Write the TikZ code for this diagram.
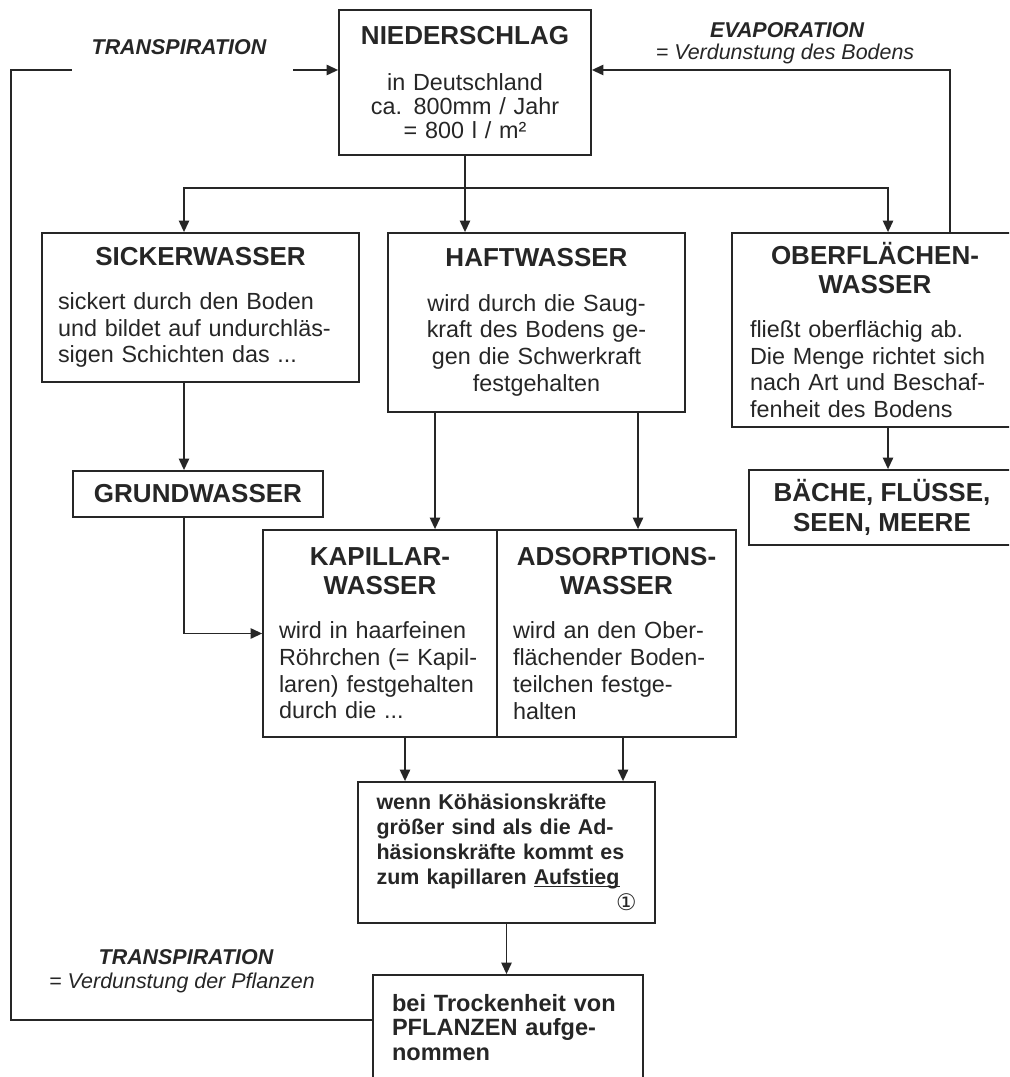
\documentclass[tikz,border=0pt]{standalone}
\usepackage{fontspec}
\setmainfont{Liberation Sans}
\newfontfamily\symfont{DejaVu Sans}
\usetikzlibrary{arrows.meta}

\newcommand{\hd}[1]{{\centering\fontsize{14.8}{16.4}\selectfont\bfseries #1\par}\vspace{10pt}}

\begin{document}
\begin{tikzpicture}[x=0.02cm, y=-0.02cm, line width=1pt, color=black!85,
  >={Triangle[length=6.5pt,width=5.8pt]},
  box/.style={draw, inner xsep=0.32cm, inner ysep=0pt, align=left,
    font=\fontsize{13.3}{15.2}\selectfont},
  ttlbox/.style={draw, inner sep=0pt, align=center,
    font=\fontsize{14.8}{17}\selectfont\bfseries},
  lbl/.style={font=\fontsize{12.2}{14}\selectfont\bfseries\itshape},
  sub/.style={font=\fontsize{12.2}{14}\selectfont\itshape}]
\useasboundingbox (0,0) rectangle (1009,1077);
\clip (0,0) rectangle (1009,1077);

\node[box, align=center, text width=4.4cm, minimum width=5cm, minimum height=2.9cm] (nieder) at (465,82.5)
  {\hd{NIEDERSCHLAG}\vspace{3pt}{\fontsize{13.3}{13.6}\selectfont in Deutschland\\ ca. 800mm / Jahr\\ = 800 l / m²\par}};
\node[box, text width=5.7cm, minimum width=6.34cm, minimum height=2.98cm] (sicker) at (200.5,307.5)
  {\hd{SICKERWASSER}sickert durch den Boden\\ und bildet auf undurchläs-\\ sigen Schichten das ...};
\node[box, align=center, text width=5.3cm, minimum width=5.94cm, minimum height=3.58cm] (haft) at (536.5,322.5)
  {\hd{HAFTWASSER}wird durch die Saug-\\ kraft des Bodens ge-\\ gen die Schwerkraft\\ festgehalten};
\node[box, text width=5cm, minimum width=5.72cm, minimum height=3.88cm] (oberfl) at (875,330)
  {\hd{OBERFLÄCHEN-\\WASSER}fließt oberflächig ab.\\ Die Menge richtet sich\\ nach Art und Beschaf-\\ fenheit des Bodens};
\node[ttlbox, minimum width=5.32cm, minimum height=1.5cm] (baeche) at (882,507.5) {BÄCHE, FLÜSSE,\\ SEEN, MEERE};
\node[ttlbox, minimum width=5cm, minimum height=0.92cm] (grund) at (198,494) {GRUNDWASSER};
\node[box, text width=4.04cm, minimum width=4.68cm, minimum height=4.14cm] (kap) at (380,633.5)
  {\hd{KAPILLAR-\\WASSER}wird in haarfeinen\\ Röhrchen (= Kapil-\\ laren) festgehalten\\ durch die ...};
\node[box, text width=4.14cm, minimum width=4.78cm, minimum height=4.14cm] (ads) at (616.5,633.5)
  {\hd{ADSORPTIONS-\\WASSER}wird an den Ober-\\ flächender Boden-\\ teilchen festge-\\ halten};
\node[box, text width=5.2cm, minimum width=5.94cm, minimum height=2.82cm,
  font=\fontsize{12.2}{14.2}\selectfont\bfseries] (koh) at (506.5,852.5)
  {wenn Köhäsionskräfte\\ größer sind als die Ad-\\ häsionskräfte kommt es\\ zum kapillaren \underline{\smash{Aufstieg}}\\[1pt]
   \hspace*{\fill}{\symfont\mdseries\fontsize{13}{13}\selectfont ①}};
\node[box, inner xsep=0.38cm, text width=4.64cm, minimum height=2.1cm,
  font=\fontsize{13.4}{13.8}\selectfont\bfseries] (pfl) at (508,1027.5)
  {bei Trockenheit von\\ PFLANZEN aufge-\\ nommen};

\node[lbl] (trtop) at (179,47) {TRANSPIRATION};
\node[lbl] (evap) at (787,30) {EVAPORATION};
\node[sub] (evapsub) at (785,54) {= Verdunstung des Bodens};
\node[lbl] (trbot) at (186,957) {TRANSPIRATION};
\node[sub] (trbotsub) at (182,983) {= Verdunstung der Pflanzen};

\coordinate (sp) at (465,188);
\coordinate (cL) at (184,188);
\coordinate (cR) at (888,188);
\coordinate (ev) at (950,70);
\coordinate (trL) at (72,70);
\coordinate (trR) at (293,70);
\coordinate (c0) at (11,1020);

\draw (nieder.south) -- (sp);
\draw[->] (sp) -| (cL |- sicker.north);
\draw[->] (sp) -| (cR |- oberfl.north);
\draw[->] (sp) -- (sp |- haft.north);
\draw[->] (ev |- oberfl.north) -- (ev) -- (ev -| nieder.east);
\draw (c0 -| pfl.west) -- (c0) |- (trL);
\draw[->] (trR) -- (trR -| nieder.west);
\draw[->] (cL |- sicker.south) -- (cL |- grund.north);
\draw[->] (cL |- grund.south) |- (kap.west);
\draw[->] (435,0 |- haft.south) -- (435,0 |- kap.north);
\draw[->] (638,0 |- haft.south) -- (638,0 |- ads.north);
\draw[->] (888,0 |- oberfl.south) -- (888,0 |- baeche.north);
\draw[->] (405,0 |- kap.south) -- (405,0 |- koh.north);
\draw[->] (623,0 |- ads.south) -- (623,0 |- koh.north);
\draw[->] (koh.south) -- (koh.south |- pfl.north);
\end{tikzpicture}
\end{document}
